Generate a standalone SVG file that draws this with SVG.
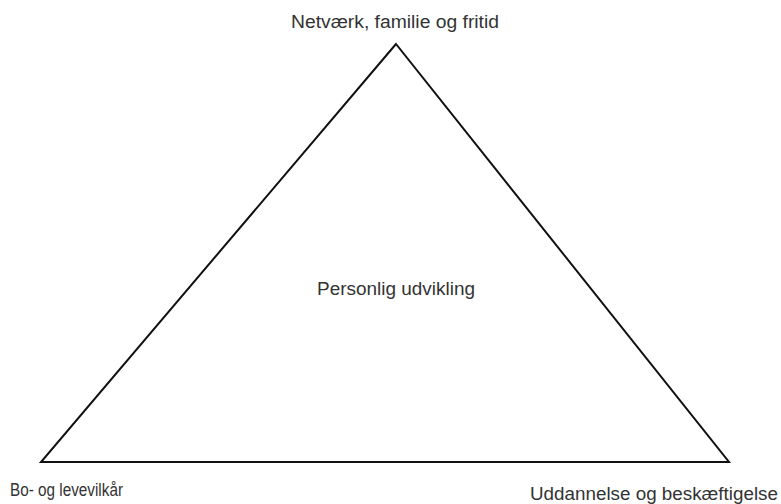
<svg xmlns="http://www.w3.org/2000/svg" width="781" height="504" viewBox="0 0 781 504">
<style>
.lbl{font-family:"Liberation Sans",Arial,sans-serif;font-size:17.5px;fill:#333}
.edge{fill:none;stroke:#111;stroke-width:2;stroke-linejoin:miter}
</style>
<rect width="781" height="504" fill="#fff"/>
<g id="connectors">
<polygon class="edge" points="396,44 41,462 729,462"/>
</g>
<g id="node-top"><text class="lbl" x="291" y="28" textLength="208" lengthAdjust="spacingAndGlyphs">Netværk, familie og fritid</text></g>
<g id="node-center"><text class="lbl" x="317" y="295" textLength="158" lengthAdjust="spacingAndGlyphs">Personlig udvikling</text></g>
<g id="node-left"><text class="lbl" x="10" y="496" textLength="113" lengthAdjust="spacingAndGlyphs">Bo- og levevilkår</text></g>
<g id="node-right"><text class="lbl" x="530" y="500" textLength="248" lengthAdjust="spacingAndGlyphs">Uddannelse og beskæftigelse</text></g>
</svg>
